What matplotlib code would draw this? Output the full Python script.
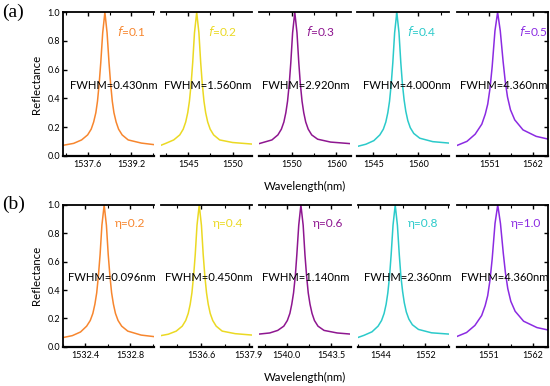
import numpy as np
import matplotlib
matplotlib.use('Agg')
from matplotlib import pyplot as plt
from matplotlib.ticker import MultipleLocator

# ---- data ----
colors = ['#F7862E', '#EBD923', '#8E1690', '#2BCACA', '#8B2BE2']

a_labels = ['0.1', '0.2', '0.3', '0.4', '0.5']
a_fwhm = ['0.430', '1.560', '2.920', '4.000', '4.360']
b_labels = ['0.2', '0.4', '0.6', '0.8', '1.0']
b_fwhm = ['0.096', '0.450', '1.140', '2.360', '4.360']

a_wl = [
    [1536.69, 1537.09, 1537.38, 1537.60, 1537.73, 1537.82, 1537.90, 1537.96, 1538.02, 1538.08, 1538.15, 1538.23,
     1538.31, 1538.38, 1538.44, 1538.50, 1538.56, 1538.64, 1538.73, 1538.86, 1539.08, 1539.56, 1540.03],
    [1541.89, 1542.46, 1543.36, 1544.04, 1544.43, 1544.71, 1544.94, 1545.13, 1545.32, 1545.50, 1545.70, 1545.95,
     1546.20, 1546.40, 1546.58, 1546.77, 1546.96, 1547.19, 1547.47, 1547.86, 1548.54, 1550.00, 1552.21],
    [1542.73, 1545.62, 1546.95, 1547.73, 1548.29, 1548.73, 1549.11, 1549.49, 1549.84, 1550.24, 1550.73,
     1551.22, 1551.62, 1551.97, 1552.35, 1552.73, 1553.17, 1553.73, 1554.51, 1555.84, 1558.73, 1563.18],
    [1539.67, 1542.47, 1545.13, 1547.13, 1548.30, 1549.13, 1549.80, 1550.37, 1550.93, 1551.47, 1552.07, 1552.80,
     1553.53, 1554.13, 1554.67, 1555.23, 1555.80, 1556.47, 1557.30, 1558.47, 1560.47, 1564.80, 1570.23],
    [1542.73, 1545.36, 1547.42, 1549.09, 1549.96, 1550.58, 1551.15, 1551.69, 1552.39, 1553.06,
     1553.73, 1554.43, 1554.97, 1555.54, 1556.29, 1557.36, 1559.44, 1562.74, 1565.72],
]
a_refl = [
    [0.072, 0.086, 0.11, 0.145, 0.185, 0.235, 0.30, 0.38, 0.50, 0.65, 0.857, 1.0,
     0.857, 0.65, 0.50, 0.38, 0.30, 0.235, 0.185, 0.145, 0.11, 0.088, 0.077],
    [0.072, 0.086, 0.11, 0.145, 0.185, 0.235, 0.30, 0.38, 0.50, 0.65, 0.857, 1.0,
     0.857, 0.65, 0.50, 0.38, 0.30, 0.235, 0.185, 0.145, 0.11, 0.092, 0.081],
    [0.084, 0.11, 0.145, 0.185, 0.235, 0.30, 0.38, 0.50, 0.65, 0.857, 1.0,
     0.857, 0.65, 0.50, 0.38, 0.30, 0.235, 0.185, 0.145, 0.115, 0.095, 0.084],
    [0.065, 0.08, 0.105, 0.145, 0.185, 0.235, 0.30, 0.38, 0.50, 0.65, 0.857, 1.0,
     0.857, 0.65, 0.50, 0.39, 0.31, 0.245, 0.195, 0.155, 0.122, 0.098, 0.088],
    [0.07, 0.10, 0.15, 0.22, 0.29, 0.36, 0.47, 0.62, 0.87, 1.0,
     0.87, 0.66, 0.52, 0.41, 0.32, 0.25, 0.18, 0.135, 0.116],
]
b_wl = [
    [1532.20, 1532.285, 1532.358, 1532.412, 1532.444, 1532.467, 1532.485, 1532.501, 1532.516, 1532.531, 1532.547,
     1532.567, 1532.587, 1532.603, 1532.618, 1532.633, 1532.649, 1532.667, 1532.690, 1532.722, 1532.776,
     1532.894, 1533.01],
    [1535.51, 1535.715, 1535.931, 1536.094, 1536.188, 1536.256, 1536.310, 1536.356, 1536.402, 1536.446, 1536.494,
     1536.554, 1536.614, 1536.662, 1536.706, 1536.752, 1536.798, 1536.852, 1536.920, 1537.014, 1537.177,
     1537.529, 1537.99],
    [1537.80, 1538.65, 1539.28, 1539.76, 1540.04, 1540.24, 1540.39, 1540.53, 1540.67, 1540.79, 1540.94, 1541.11,
     1541.29, 1541.43, 1541.56, 1541.69, 1541.83, 1541.99, 1542.18, 1542.46, 1542.94, 1543.97, 1545.03],
    [1539.94, 1541.08, 1542.51, 1543.59, 1544.21, 1544.66, 1545.02, 1545.32, 1545.63, 1545.91, 1546.24, 1546.63,
     1547.02, 1547.35, 1547.63, 1547.94, 1548.24, 1548.60, 1549.05, 1549.67, 1550.75, 1553.07, 1556.17],
    [1543.13, 1545.61, 1547.67, 1549.34, 1550.21, 1550.83, 1551.40, 1551.94, 1552.64, 1553.31,
     1553.98, 1554.68, 1555.22, 1555.79, 1556.54, 1557.61, 1559.69, 1562.99, 1565.72],
]
b_refl = [
    [0.064, 0.078, 0.104, 0.145, 0.185, 0.235, 0.30, 0.38, 0.50, 0.65, 0.857, 1.0,
     0.857, 0.65, 0.50, 0.38, 0.30, 0.235, 0.185, 0.145, 0.11, 0.082, 0.071],
    [0.078, 0.088, 0.11, 0.145, 0.185, 0.235, 0.30, 0.38, 0.50, 0.65, 0.857, 1.0,
     0.857, 0.65, 0.50, 0.38, 0.30, 0.235, 0.185, 0.145, 0.11, 0.092, 0.082],
    [0.089, 0.097, 0.115, 0.145, 0.185, 0.235, 0.30, 0.38, 0.50, 0.65, 0.857, 1.0,
     0.857, 0.65, 0.50, 0.38, 0.30, 0.235, 0.185, 0.145, 0.115, 0.097, 0.089],
    [0.064, 0.08, 0.105, 0.145, 0.185, 0.235, 0.30, 0.38, 0.50, 0.65, 0.857, 1.0,
     0.857, 0.65, 0.50, 0.39, 0.31, 0.245, 0.195, 0.155, 0.122, 0.098, 0.089],
    [0.071, 0.10, 0.15, 0.22, 0.29, 0.36, 0.47, 0.62, 0.87, 1.0,
     0.87, 0.66, 0.52, 0.41, 0.32, 0.25, 0.18, 0.135, 0.118],
]

a_xlim = [(1536.69, 1540.03), (1541.89, 1552.21), (1542.73, 1563.18), (1539.67, 1570.23), (1542.73, 1565.72)]
b_xlim = [(1532.20, 1533.01), (1535.51, 1537.99), (1537.80, 1545.03), (1539.94, 1556.17), (1543.13, 1565.72)]
a_ticks = [[1537.6, 1539.2], [1545, 1550], [1550, 1560], [1545, 1560], [1551, 1562]]
a_ticklabels = [['1537.6', '1539.2'], ['1545', '1550'], ['1550', '1560'], ['1545', '1560'], ['1551', '1562']]
a_minor = [0.8, 2.5, 5, 7.5, 5.5]
b_ticks = [[1532.4, 1532.8], [1536.6, 1537.9], [1540.0, 1543.5], [1544, 1552], [1551, 1562]]
b_ticklabels = [['1532.4', '1532.8'], ['1536.6', '1537.9'], ['1540.0', '1543.5'], ['1544', '1552'], ['1551', '1562']]
b_minor = [0.2, 0.65, 1.75, 4, 5.5]

# text placement (axes fraction)
a_tag_x = [0.59, 0.52, 0.51, 0.54, 0.68]
b_tag_x = [0.57, 0.575, 0.59, 0.555, 0.60]
a_fw_x = [0.08, 0.04, 0.03, 0.057, 0.04]
b_fw_x = [0.06, 0.047, 0.03, 0.07, 0.046]

plt.rcParams['font.family'] = ['Lato', 'DejaVu Sans']

W, H = 550, 386
fig = plt.figure(figsize=(W / 100, H / 100), dpi=100)

lefts = [62.7, 160.7, 259.0, 357.5, 456.5]
pw = 91.5
rows = [(12.3, 155.7), (205.0, 346.7)]


def draw_row(row, wl, refl, xlim, ticks, ticklabels, minor, tag, labels, tag_x, fwhm, fw_x):
    top, bot = rows[row]
    for i in range(5):
        ax = fig.add_axes([lefts[i] / W, 1 - bot / H, pw / W, (bot - top) / H])
        ax.plot(wl[i], refl[i], color=colors[i], lw=1.1, solid_joinstyle='round')
        ax.set_xlim(*xlim[i])
        ax.set_ylim(0, 1.0)
        ax.set_xticks(ticks[i], ticklabels[i])
        ax.xaxis.set_minor_locator(MultipleLocator(minor[i]))
        ax.tick_params(axis='x', which='both', direction='in', top=True, bottom=True,
                       labelsize=6.5, pad=3)
        ax.tick_params(axis='x', which='major', length=3, width=1)
        ax.tick_params(axis='x', which='minor', length=2, width=0.8)
        ax.spines['bottom'].set_linewidth(1.6)
        ax.spines['top'].set_linewidth(1.3)
        ax.spines['left'].set_linewidth(1.3)
        ax.spines['right'].set_linewidth(1.3)
        ax.set_yticks(np.arange(0, 1.01, 0.2))
        ax.tick_params(axis='y', direction='in', length=3, width=1, labelsize=6.5, pad=2)
        if i == 0:
            ax.spines['right'].set_visible(False)
            ax.tick_params(axis='y', left=True, right=False)
            ax.set_yticklabels(['0.0', '0.2', '0.4', '0.6', '0.8', '1.0'])
            ax.set_ylabel('Reflectance', fontsize=8.2, labelpad=4)
        elif i == 4:
            ax.spines['left'].set_visible(False)
            ax.tick_params(axis='y', left=False, right=True, labelleft=False)
        else:
            ax.spines['left'].set_visible(False)
            ax.spines['right'].set_visible(False)
            ax.tick_params(axis='y', left=False, right=False, labelleft=False)
        if tag == 'f':
            txt = r'$\mathit{f}$=' + labels[i]
        else:
            txt = '\u03b7=' + labels[i]
        ax.text(tag_x[i], 0.867, txt, transform=ax.transAxes, color=colors[i],
                fontsize=8.6, va='center', ha='left')
        ax.text(fw_x[i], 0.49, 'FWHM=' + fwhm[i] + 'nm', transform=ax.transAxes,
                fontsize=8.1, va='center', ha='left', clip_on=False, zorder=5)


draw_row(0, a_wl, a_refl, a_xlim, a_ticks, a_ticklabels, a_minor, 'f', a_labels, a_tag_x, a_fwhm, a_fw_x)
draw_row(1, b_wl, b_refl, b_xlim, b_ticks, b_ticklabels, b_minor, 'eta', b_labels, b_tag_x, b_fwhm, b_fw_x)

fig.text(305 / W, 1 - 186 / H, 'Wavelength(nm)', ha='center', va='center', fontsize=8.2)
fig.text(305 / W, 1 - 377 / H, 'Wavelength(nm)', ha='center', va='center', fontsize=8.2)
fig.text(2 / W, 1 - 12 / H, '(a)', family='Liberation Serif', fontsize=14, ha='left', va='center')
fig.text(2 / W, 1 - 204 / H, '(b)', family='Liberation Serif', fontsize=14, ha='left', va='center')

fig.savefig('out.png', dpi=100)
